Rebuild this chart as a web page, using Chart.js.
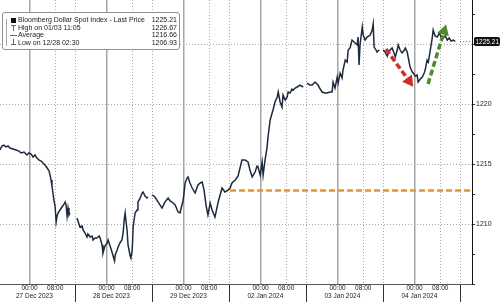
<!DOCTYPE html>
<html lang="en">
<head>
<meta charset="UTF-8">
<title>Bloomberg Dollar Spot Index</title>
<script src="https://cdn.jsdelivr.net/npm/chart.js"></script>
<style>
    body { margin: 0; background: #fff; }
    .wrap { position: relative; width: 500px; height: 302px; }
    .legend-box {
        position: absolute; left: 2px; top: 12px;
        width: 176px; height: 33px; padding-top: 3px;
        border: 1px solid #8f8f8f; border-radius: 3px; background: #fff;
        font: 7px "Liberation Sans", Arial, sans-serif; color: #1a1a1a;
    }
    .row { position: relative; display: flex; height: 7.5px; line-height: 7.5px; }
    .ico { position: relative; width: 15px; }
    .lbl { flex: 1; }
    .val { padding-right: 2px; }
    .tree { position: absolute; left: 3px; top: 6px; height: 27px; border-left: 1px solid #aaa; }
    .sq { position: absolute; left: 8px; top: 1.5px; width: 5px; height: 5px; background: #111; }
    .hi, .lo { position: absolute; left: 8px; width: 5px; height: 5px; }
    .hi { top: 1px; border-top: 1px solid #666; }
    .lo { top: 0; border-bottom: 1px solid #666; }
    .hi::after, .lo::after { content: ''; position: absolute; left: 2px; top: 0; height: 5px; border-left: 1px solid #666; }
    .avg { position: absolute; left: 7px; top: 3.5px; width: 7px; border-top: 1px solid #666; }
</style>
</head>
<body>
<div class="wrap">
    <canvas id="chart" width="500" height="302"></canvas>
    <div class="legend-box">
        <span class="tree"></span>
        <div class="row"><span class="ico"><i class="sq"></i></span><span class="lbl">Bloomberg Dollar Spot Index - Last Price</span><span class="val">1225.21</span></div>
        <div class="row"><span class="ico"><i class="hi"></i></span><span class="lbl">High on 01/03 11:05</span><span class="val">1226.67</span></div>
        <div class="row"><span class="ico"><i class="avg"></i></span><span class="lbl">Average</span><span class="val">1216.66</span></div>
        <div class="row"><span class="ico"><i class="lo"></i></span><span class="lbl">Low on 12/28 02:30</span><span class="val">1206.93</span></div>
    </div>
</div>

<script>
// time axis: hours since 27 Dec 2023 00:00, trading days laid end to end (weekend/holiday dropped)
const hours = [
    -9.2, -8.6, -8.0, -7.3, -6.7, -6.1, -5.1, -4.2, -3.3, -2.6, -1.7, -0.8, -0.2, 0.5,
    1.1, 1.7, 2.3, 3.0, 3.6, 4.2, 4.8, 5.5, 6.1, 6.4, 6.7, 7.0, 7.3,
    7.6, 8.0, 8.3, 8.6, 8.9, 9.5, 10.1, 10.8, 11.1, 11.4, 11.7, 12.0, 12.3, 12.6,
    13.7,
    14.8, 15.4, 15.7, 16.4, 16.7, 17.3, 17.9, 18.2, 18.9, 19.5, 19.8, 20.4, 21.0, 21.7, 22.0,
    22.6, 22.9, 23.5, 24.2, 24.5, 25.1, 25.7, 26.5, 26.7, 27.3, 27.6, 28.2, 28.8, 29.2, 29.5,
    29.8, 30.1, 30.4, 30.7, 31.3, 31.6, 32.0, 32.3, 32.9, 33.5, 33.8, 34.5, 35.1, 35.4, 36.0, 36.6, 36.9,
    37.6,
    38.2, 39.1, 40.1, 40.7, 41.3, 42.2, 43.2, 43.8, 44.4, 45.4, 46.3, 46.9, 47.9, 48.5, 49.1, 49.4,
    50.0, 50.7, 51.6, 52.5, 53.2, 53.8, 54.4, 55.0, 55.6, 56.3, 56.9, 57.8, 58.8, 59.4, 60.0, 60.9,
    61.9, 62.5, 63.1, 64.1, 65.0, 65.6, 66.2, 67.2, 68.1, 68.7, 69.4, 70.3, 70.9, 71.2, 71.9, 72.5,
    72.8, 73.4, 74.0, 74.4, 75.0, 75.6, 75.9, 76.5, 77.2, 77.5, 78.1, 78.7, 79.0, 79.7, 80.3, 80.6, 81.2,
    81.8, 82.2, 82.8, 83.4, 84.3, 85.3,
    85.9,
    86.5, 87.4, 88.1, 89.0, 89.9, 90.6, 91.2, 92.1, 92.7, 93.7, 94.3, 94.6, 95.2, 95.9, 96.2, 96.8,
    97.4, 97.7, 98.4, 99.0, 99.3, 99.9, 100.5, 101.5, 102.1, 102.4, 102.7, 103.0, 103.7, 104.0, 104.6, 105.2,
    106.2, 106.8, 107.1, 107.4, 108.0, 108.3, 109.0,
    109.6,
    110.2, 110.8, 111.5, 111.8, 112.4, 113.0, 113.6, 114.0, 114.6, 114.9, 115.5, 116.1, 116.8, 117.1, 117.7, 118.0,
    118.6, 119.3, 119.6, 120.2, 120.8, 121.1, 121.8, 122.4, 123.0, 123.3, 123.9, 124.3, 124.9, 125.5, 125.8, 126.4,
    127.1, 127.7, 128.0, 128.6, 128.9, 129.6, 130.2, 130.8, 131.4, 132.1, 132.7
];
const price = [
    1216.17, 1216.5, 1216.58, 1216.42, 1216.5, 1216.33, 1216.25, 1216.17, 1216.08, 1215.92, 1216.0, 1215.75, 1215.92, 1215.83,
    1215.58, 1215.75, 1215.5, 1215.33, 1215.25, 1215.08, 1214.92, 1214.67, 1214.42, 1214.08, 1213.67, 1213.17, 1212.58,
    1212.0, 1211.42, 1210.17, 1210.67, 1210.92, 1211.17, 1211.42, 1211.67, 1211.83, 1211.58, 1210.67, 1211.33, 1210.75, 1210.92,
    null,
    1210.5, 1210.0, 1209.75, 1209.83, 1209.5, 1209.25, 1208.92, 1209.17, 1208.92, 1209.0, 1208.67, 1208.83, 1208.83, 1209.0, 1208.83,
    1208.25, 1207.58, 1208.17, 1208.42, 1208.67, 1208.17, 1207.67, 1206.93, 1207.42, 1207.83, 1208.08, 1208.42, 1208.67, 1209.33, 1210.33,
    1210.92, 1210.17, 1209.5, 1208.25, 1207.42, 1207.17, 1207.83, 1209.75, 1210.92, 1211.17, 1211.83, 1212.17, 1212.58, 1212.67, 1212.33, 1212.17, 1212.25,
    null,
    1212.42, 1212.25, 1211.83, 1211.58, 1211.33, 1211.83, 1212.17, 1211.92, 1211.83, 1211.58, 1211.0, 1210.92, 1212.0, 1213.42, 1213.83, 1213.92,
    1213.42, 1213.0, 1212.58, 1213.25, 1213.42, 1213.5, 1212.83, 1211.58, 1210.75, 1211.75, 1211.17, 1210.58, 1211.83, 1212.42, 1213.0, 1212.67,
    1212.83, 1213.0, 1213.42, 1213.67, 1214.0, 1214.67, 1215.33, 1215.33, 1215.17, 1214.5, 1213.92, 1214.33, 1214.83, 1214.75, 1214.08, 1215.17,
    1214.08, 1215.33, 1216.33, 1217.42, 1218.67, 1219.25, 1219.5, 1220.17, 1220.58, 1221.0, 1220.17, 1219.75, 1220.75, 1220.33, 1220.58, 1221.0, 1220.92,
    1221.25, 1221.17, 1221.33, 1221.42, 1221.58, 1221.42,
    null,
    1221.75, 1221.58, 1221.58, 1221.83, 1221.58, 1221.25, 1221.0, 1220.92, 1220.92, 1221.0, 1221.0, 1221.83, 1221.33, 1222.25, 1221.75, 1222.58,
    1222.17, 1222.83, 1223.67, 1223.5, 1224.5, 1224.67, 1225.33, 1225.08, 1224.92, 1225.58, 1223.25, 1224.92, 1226.42, 1225.75, 1225.33, 1225.58,
    1225.75, 1226.17, 1226.67, 1224.75, 1224.5, 1224.33, 1224.5,
    null,
    1224.5, 1224.33, 1224.0, 1224.25, 1224.5, 1224.67, 1224.25, 1223.92, 1224.5, 1224.92, 1224.5, 1224.25, 1224.5, 1224.67, 1224.33, 1223.92,
    1223.08, 1222.67, 1222.58, 1222.33, 1222.42, 1221.83, 1222.08, 1222.25, 1222.58, 1222.83, 1223.67, 1223.5, 1224.5, 1225.5, 1226.17, 1225.67,
    1225.58, 1225.92, 1225.75, 1225.33, 1225.5, 1225.67, 1225.33, 1225.5, 1225.25, 1225.33, 1225.21
];

const lastPrice = 1225.21;
const levelPrice = 1212.79;      // orange dashed level
const levelFrom = 62.5;
const redArrow = [[111.1, 1224.58], [118.3, 1221.92]];
const greenArrow = [[124.2, 1221.67], [129.2, 1226.08]];

const clockTicks = [0, 8, 24, 32, 48, 56, 72, 80, 96, 104, 120, 128];
const clockLabels = ['00:00', '08:00', '00:00', '08:00', '00:00', '08:00', '00:00', '08:00', '00:00', '08:00', '00:00', '08:00'];
const dotTicks = [8, 14.4, 32, 38.4, 56, 62.4, 80, 86.4, 104, 110.4, 128, 134.4];
const dayCentres = [1.5, 25.5, 49.5, 73.5, 97.5, 121.5];
const dayLabels = ['27 Dec 2023', '28 Dec 2023', '29 Dec 2023', '02 Jan 2024', '03 Jan 2024', '04 Jan 2024'];
const yTicks = [1205, 1207.5, 1210, 1212.5, 1215, 1217.5, 1220, 1222.5, 1225, 1227.5];
const yLabels = [1210, 1215, 1220];

const xMin = -9.2, xMax = 137.9;
const yMin = 1205, yMax = 1228.67;

const FONT = '"Liberation Sans", Arial, sans-serif';
Chart.defaults.font.family = FONT;

const clear = 'rgba(0,0,0,0)';
const noPad = s => { s.paddingLeft = 0; s.paddingRight = 0; s.paddingTop = 0; s.paddingBottom = 0; };

function arrow(pts, color, rot) {
    return {
        data: pts.map(p => ({ x: p[0], y: p[1] })),
        borderColor: color, borderWidth: 3.5, borderDash: [6, 3],
        pointRadius: [0, 7], pointStyle: 'triangle', rotation: [0, rot],
        pointBackgroundColor: color, pointBorderWidth: 0
    };
}

// black price tag on the right axis
const priceTag = {
    id: 'priceTag',
    afterDraw(chart) {
        const c = chart.ctx, ys = chart.scales.y;
        const y = ys.getPixelForValue(lastPrice);
        const x0 = ys.left + 2;
        c.save();
        c.fillStyle = '#111';
        c.beginPath();
        c.roundRect(x0, y - 4.5, chart.width - x0, 9, 2);
        c.fill();
        c.fillStyle = '#fff';
        c.font = '6.5px ' + FONT;
        c.textBaseline = 'middle';
        c.fillText(lastPrice.toFixed(2), x0 + 1.5, y + 0.5);
        c.restore();
    }
};

new Chart(document.getElementById('chart'), {
    type: 'line',
    data: {
        datasets: [
            arrow(redArrow, '#cc2f2a', 144),
            arrow(greenArrow, '#4f8a2b', 17),
            {
                data: [{ x: levelFrom, y: levelPrice }, { x: xMax, y: levelPrice }],
                borderColor: '#e3962f', borderWidth: 2.5, borderDash: [6, 3], pointRadius: 0
            },
            {
                data: [{ x: hours[hours.length - 1] + 1.5, y: lastPrice }, { x: xMax, y: lastPrice }],
                borderColor: '#777', borderWidth: 1, borderDash: [1, 2], pointRadius: 0
            },
            {
                label: 'Bloomberg Dollar Spot Index - Last Price',
                data: hours.map((h, i) => ({ x: h, y: price[i] })),
                borderColor: '#1d2a3d', borderWidth: 1.5, pointRadius: 0, spanGaps: false
            }
        ]
    },
    options: {
        responsive: false,
        animation: false,
        devicePixelRatio: 1,
        layout: { padding: 0, autoPadding: false },
        plugins: { legend: { display: false }, tooltip: { enabled: false } },
        scales: {
            x2: {
                type: 'linear', position: 'bottom', weight: 0, min: xMin, max: xMax,
                afterBuildTicks: s => { s.ticks = dotTicks.map(v => ({ value: v })); },
                afterFit: s => { s.height = 0; noPad(s); },
                ticks: { display: false },
                grid: {
                    color: '#a9a9a9', lineWidth: 1, tickLength: 18, tickWidth: 1,
                    tickColor: c => (c.tick && c.tick.value % 24 !== 8 ? '#333' : clear)
                },
                border: { display: false, dash: [1, 2] }
            },
            x: {
                type: 'linear', position: 'bottom', weight: 1, min: xMin, max: xMax,
                afterBuildTicks: s => { s.ticks = clockTicks.map(v => ({ value: v })); },
                afterFit: s => { s.height = 9; noPad(s); },
                ticks: {
                    autoSkip: false, maxRotation: 0, padding: 1, color: '#222',
                    font: { size: 6.5, lineHeight: 1 },
                    callback: (v, i) => clockLabels[i]
                },
                grid: {
                    drawTicks: false, lineWidth: 1.5,
                    color: c => (c.tick && c.tick.value % 24 === 0 ? '#a6a6a6' : clear)
                },
                border: { display: true, color: '#555', width: 1 }
            },
            x3: {
                type: 'linear', position: 'bottom', weight: 2, min: xMin, max: xMax,
                afterBuildTicks: s => { s.ticks = dayCentres.map(v => ({ value: v })); },
                afterFit: s => { s.height = 9; noPad(s); },
                ticks: {
                    autoSkip: false, maxRotation: 0, padding: 0, color: '#222',
                    font: { size: 6.5, lineHeight: 1 },
                    callback: (v, i) => dayLabels[i]
                },
                grid: { display: false, drawTicks: false },
                border: { display: false }
            },
            y: {
                position: 'right', min: yMin, max: yMax,
                afterBuildTicks: s => { s.ticks = yTicks.map(v => ({ value: v })); },
                afterFit: s => { s.width = 28; noPad(s); },
                ticks: {
                    padding: 1, color: '#222', font: { size: 7 },
                    callback: v => (yLabels.includes(v) ? String(v) : '')
                },
                grid: {
                    lineWidth: 1, tickLength: 3, tickWidth: 1, tickColor: '#333',
                    color: c => (c.tick && c.tick.value % 5 === 0 && c.tick.value > yMin ? '#a9a9a9' : clear)
                },
                border: { display: true, color: '#111', width: 1, dash: [1, 2] }
            }
        }
    },
    plugins: [priceTag]
});
</script>
</body>
</html>
